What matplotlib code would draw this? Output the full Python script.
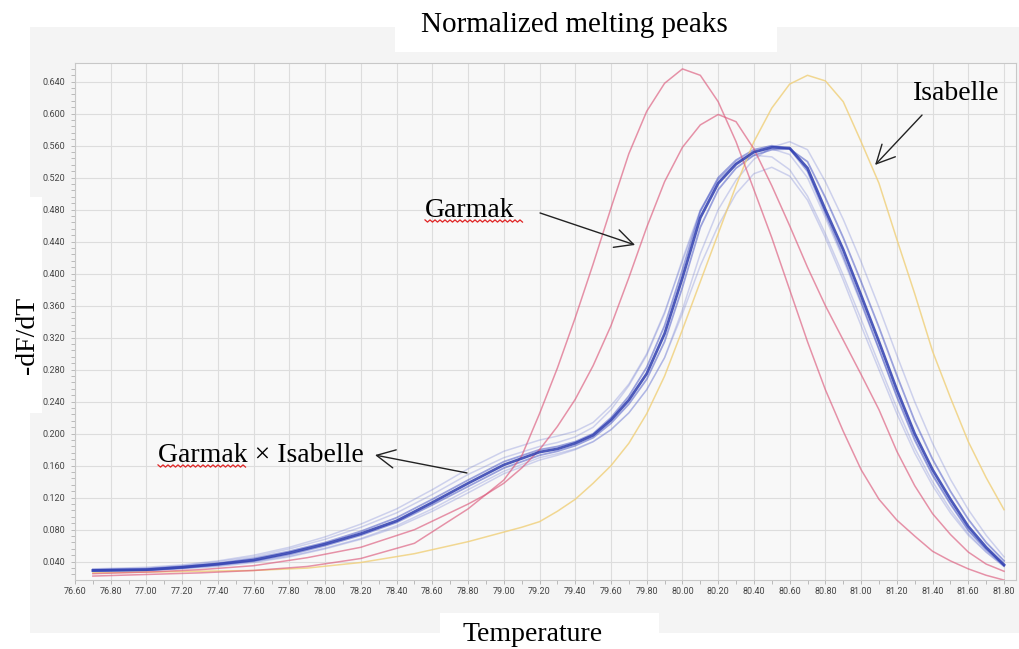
import matplotlib
matplotlib.use("Agg")
import matplotlib.pyplot as plt
from matplotlib.patches import Rectangle
from matplotlib.lines import Line2D
from matplotlib.ticker import MultipleLocator, FormatStrFormatter
import numpy as np

# Temperature grid (deg C) for the parent curves
temp_parent = [76.7, 77.0, 77.3, 77.6, 77.9, 78.2, 78.5, 78.8,
               78.9, 79.0, 79.1, 79.2, 79.3, 79.4, 79.5, 79.6, 79.7, 79.8, 79.9,
               80.0, 80.1, 80.2, 80.3, 80.4, 80.5, 80.6, 80.7, 80.8, 80.9,
               81.0, 81.1, 81.2, 81.3, 81.4, 81.5, 81.6, 81.7, 81.8]

# Garmak (two red curves)
garmak_1 = [0.022, 0.024, 0.026, 0.029, 0.034, 0.044, 0.063, 0.106,
            0.124, 0.142, 0.172, 0.225, 0.282, 0.345, 0.412, 0.482, 0.550, 0.603, 0.638,
            0.656, 0.648, 0.615, 0.565, 0.505, 0.445, 0.380, 0.315, 0.255, 0.203,
            0.155, 0.118, 0.092, 0.072, 0.053, 0.041, 0.031, 0.023, 0.017]
garmak_2 = [0.025, 0.027, 0.030, 0.035, 0.045, 0.058, 0.080, 0.112,
            0.124, 0.138, 0.157, 0.180, 0.209, 0.243, 0.285, 0.335, 0.395, 0.458, 0.515,
            0.558, 0.586, 0.599, 0.590, 0.556, 0.510, 0.460, 0.408, 0.360, 0.317,
            0.274, 0.230, 0.178, 0.135, 0.100, 0.074, 0.052, 0.037, 0.028]

# Isabelle (yellow curve)
isabelle = [0.026, 0.027, 0.028, 0.029, 0.032, 0.039, 0.050, 0.065,
            0.071, 0.077, 0.083, 0.090, 0.103, 0.118, 0.138, 0.160, 0.188, 0.225, 0.272,
            0.330, 0.390, 0.450, 0.510, 0.565, 0.607, 0.637, 0.648, 0.641, 0.615,
            0.565, 0.513, 0.443, 0.375, 0.303, 0.245, 0.190, 0.145, 0.105]

# Temperature grid for the Garmak x Isabelle progeny curves
temp_hybrid = [76.7, 77.0, 77.2, 77.4, 77.6, 77.8, 78.0, 78.2, 78.4, 78.6, 78.8,
               79.0, 79.2, 79.3, 79.4, 79.5, 79.6, 79.7, 79.8, 79.9,
               80.0, 80.1, 80.2, 80.3, 80.4, 80.5, 80.6, 80.7, 80.8, 80.9,
               81.0, 81.1, 81.2, 81.3, 81.4, 81.5, 81.6, 81.7, 81.8]

hybrid_main = [0.029, 0.030, 0.033, 0.037, 0.042, 0.051, 0.062, 0.075, 0.091, 0.114, 0.138,
               0.161, 0.177, 0.181, 0.188, 0.198, 0.217, 0.242, 0.275, 0.325,
               0.395, 0.470, 0.513, 0.537, 0.552, 0.558, 0.557, 0.532, 0.480, 0.430,
               0.373, 0.315, 0.255, 0.200, 0.155, 0.118, 0.084, 0.058, 0.036]
hybrid_5 = [0.030, 0.031, 0.034, 0.038, 0.044, 0.053, 0.064, 0.078, 0.095, 0.118, 0.142,
            0.165, 0.180, 0.184, 0.190, 0.200, 0.220, 0.247, 0.283, 0.335,
            0.405, 0.478, 0.520, 0.542, 0.555, 0.560, 0.556, 0.528, 0.475, 0.422,
            0.365, 0.306, 0.246, 0.192, 0.148, 0.112, 0.079, 0.055, 0.035]
hybrid_6 = [0.028, 0.029, 0.032, 0.036, 0.041, 0.049, 0.060, 0.073, 0.089, 0.111, 0.134,
            0.157, 0.173, 0.178, 0.185, 0.195, 0.213, 0.237, 0.268, 0.315,
            0.383, 0.458, 0.505, 0.532, 0.548, 0.555, 0.556, 0.540, 0.495, 0.445,
            0.390, 0.333, 0.273, 0.216, 0.168, 0.128, 0.093, 0.064, 0.041]
# fainter replicates
hybrid_2 = [0.031, 0.033, 0.036, 0.041, 0.048, 0.058, 0.071, 0.087, 0.106, 0.130, 0.156,
            0.178, 0.192, 0.197, 0.203, 0.214, 0.235, 0.262, 0.300, 0.352,
            0.415, 0.478, 0.517, 0.540, 0.552, 0.556, 0.549, 0.520, 0.470, 0.418,
            0.362, 0.305, 0.248, 0.195, 0.150, 0.113, 0.080, 0.056, 0.038]
hybrid_3 = [0.028, 0.029, 0.031, 0.034, 0.039, 0.046, 0.056, 0.068, 0.083, 0.103, 0.126,
            0.150, 0.167, 0.173, 0.180, 0.190, 0.205, 0.226, 0.255, 0.295,
            0.355, 0.425, 0.480, 0.517, 0.543, 0.558, 0.565, 0.555, 0.515, 0.468,
            0.415, 0.358, 0.298, 0.240, 0.188, 0.143, 0.105, 0.073, 0.046]
hybrid_4 = [0.029, 0.030, 0.032, 0.035, 0.040, 0.047, 0.057, 0.069, 0.085, 0.106, 0.130,
            0.153, 0.170, 0.175, 0.181, 0.190, 0.205, 0.226, 0.255, 0.295,
            0.350, 0.410, 0.460, 0.500, 0.525, 0.533, 0.522, 0.492, 0.445, 0.392,
            0.335, 0.280, 0.225, 0.176, 0.135, 0.101, 0.073, 0.052, 0.034]
hybrid_7 = [0.030, 0.032, 0.035, 0.040, 0.046, 0.056, 0.068, 0.083, 0.101, 0.124, 0.149,
            0.170, 0.184, 0.189, 0.196, 0.208, 0.230, 0.260, 0.298, 0.350,
            0.418, 0.480, 0.518, 0.538, 0.548, 0.546, 0.530, 0.497, 0.450, 0.398,
            0.343, 0.287, 0.232, 0.182, 0.140, 0.105, 0.075, 0.052, 0.034]

W, H = 1020, 649
SERIF = ["Liberation Serif", "DejaVu Serif"]
TICKFONT = ["Roboto", "DejaVu Sans"]


def fx(px):
    return px / W


def fy(px):
    # pixel row from top -> figure fraction
    return 1 - px / H


def box(fig, x0, y0, x1, y1, color, z):
    fig.add_artist(Rectangle((fx(x0), fy(y1)), fx(x1 - x0), (y1 - y0) / H,
                             transform=fig.transFigure, facecolor=color,
                             edgecolor="none", zorder=z))


def squiggle(fig, x0, x1, y):
    """red spell-check wave under a word"""
    xs = np.arange(x0, x1, 2.5)
    ys = y + np.where(np.arange(len(xs)) % 2 == 0, -1.1, 1.1)
    fig.add_artist(Line2D(fx(xs), fy(ys), color="#e02424", lw=0.9,
                          transform=fig.transFigure, zorder=6))


fig = plt.figure(figsize=(W / 100, H / 100), dpi=100)
fig.patch.set_facecolor("white")

# grey screenshot area and the white text boxes pasted over it
box(fig, 30, 27, W, 633, "#f4f4f4", -2)
box(fig, 395, 0, 777, 52, "white", -1)
box(fig, 0, 197, 42, 413, "white", -1)
box(fig, 440, 613, 659, H, "white", -1)

ax = fig.add_axes([fx(75), fy(580), fx(1016 - 75), (580 - 63.3) / H])
ax.set_facecolor("#f8f8f8")

# progeny: faint replicates first, then the denser ones
for ys in (hybrid_2, hybrid_3, hybrid_4, hybrid_7):
    ax.plot(temp_hybrid, ys, color="#6b78d2", lw=1.1, alpha=0.3)
for ys in (hybrid_5, hybrid_6):
    ax.plot(temp_hybrid, ys, color="#3d4cc2", lw=1.3, alpha=0.5)

ax.plot(temp_parent, isabelle, color="#f0cf78", lw=1.1, alpha=0.8)
ax.plot(temp_parent, garmak_1, color="#dc5a7c", lw=1.1, alpha=0.65)
ax.plot(temp_parent, garmak_2, color="#dc5a7c", lw=1.1, alpha=0.65)

ax.plot(temp_hybrid, hybrid_main, color="#2e3db0", lw=2.0, alpha=0.85)

ax.set_xlim(76.6, 81.867)
ax.set_ylim(0.0171, 0.663)

ax.xaxis.set_major_locator(MultipleLocator(0.2))
ax.xaxis.set_minor_locator(MultipleLocator(0.1))
ax.yaxis.set_major_locator(MultipleLocator(0.04))
ax.yaxis.set_minor_locator(MultipleLocator(0.008))
ax.xaxis.set_major_formatter(FormatStrFormatter("%.2f"))
ax.yaxis.set_major_formatter(FormatStrFormatter("%.3f"))

ax.set_axisbelow(True)
ax.grid(True, which="major", color="#dddddd", lw=0.8)
ax.tick_params(which="both", direction="out", length=3, width=0.6,
               color="#b0b0b0", labelsize=6.5, labelcolor="#444444")
ax.tick_params(axis="x", pad=2)
ax.tick_params(axis="y", pad=4)
for lab in ax.get_xticklabels() + ax.get_yticklabels():
    lab.set_family(TICKFONT)
for sp in ax.spines.values():
    sp.set_color("#c8c8c8")
    sp.set_linewidth(0.8)

# titles as pasted text
fig.text(fx(574), fy(25), "Normalized melting peaks", ha="center", va="center",
         fontsize=21, family=SERIF)
fig.text(fx(28), fy(335), "-dF/dT", rotation=90, ha="center", va="center",
         fontsize=20, family=SERIF)
fig.text(fx(463), fy(641), "Temperature", ha="left", va="baseline",
         fontsize=20, family=SERIF)

# annotations
arrow = dict(arrowstyle="->,head_length=0.6,head_width=0.3", color="#222222",
             lw=1.0, mutation_scale=22, shrinkA=0, shrinkB=0)
ax.text(78.559, 0.4709, "Garmak", fontsize=20, family=SERIF, va="baseline")
ax.annotate("", xy=(79.735, 0.4359), xytext=(79.203, 0.4759), arrowprops=arrow)

ax.text(77.065, 0.1646, "Garmak \u00d7 Isabelle", fontsize=20, family=SERIF,
        va="baseline")
ax.annotate("", xy=(78.279, 0.1733), xytext=(78.794, 0.1509), arrowprops=arrow)

ax.text(81.291, 0.6171, "Isabelle", fontsize=20, family=SERIF, va="baseline")
ax.annotate("", xy=(81.078, 0.5359), xytext=(81.341, 0.5983), arrowprops=arrow)

squiggle(fig, 425, 523, 221)
squiggle(fig, 158, 248, 466)

fig.savefig("out.png", dpi=100)
